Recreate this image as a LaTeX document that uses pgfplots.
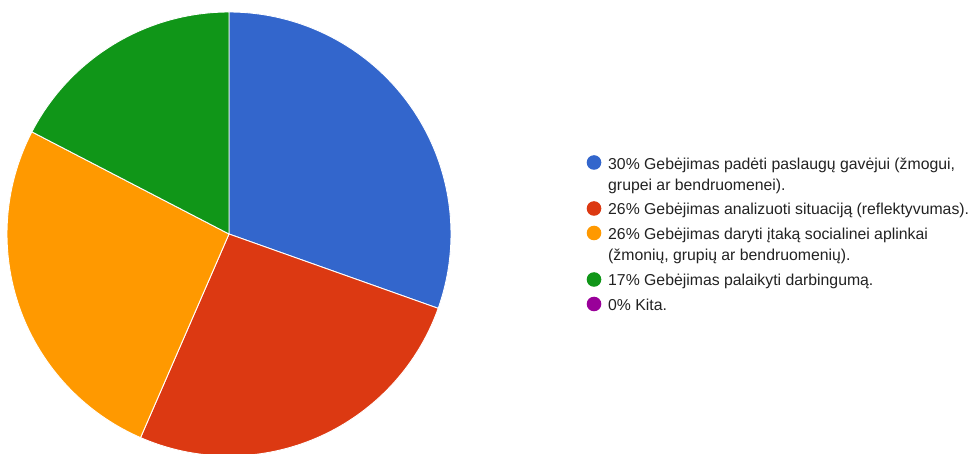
\documentclass[border=0pt]{standalone}
\usepackage{pgfplots}
\pgfplotsset{compat=1.18}
\usepackage{pgfplotstable}
\usepackage{fontspec}
\setmainfont{Liberation Sans}

\definecolor{gblue}{HTML}{3366CC}
\definecolor{gred}{HTML}{DC3912}
\definecolor{gorange}{HTML}{FF9900}
\definecolor{ggreen}{HTML}{109618}
\definecolor{gpurple}{HTML}{990099}
\definecolor{legtext}{HTML}{222222}

% answers (counts), in drawing order
\pgfplotstableread{
count colour
7 gblue
6 gred
6 gorange
4 ggreen
0 gpurple
}\piedata

\begin{document}
\begin{tikzpicture}
% cumulative angles, clockwise from the top
\pgfplotstablegetrowsof{\piedata}
\pgfmathtruncatemacro{\nrows}{\pgfplotsretval-1}
\gdef\total{0}
\foreach \i in {0,...,\nrows}{
  \pgfplotstablegetelem{\i}{count}\of\piedata
  \pgfmathsetmacro{\t}{\total+\pgfplotsretval}
  \xdef\total{\t}
}
\gdef\cum{0}
\foreach \i in {0,...,\nrows}{
  \pgfplotstablegetelem{\i}{count}\of\piedata
  \pgfmathsetmacro{\a}{90-360*\cum/\total}
  \pgfmathsetmacro{\b}{90-360*(\cum+\pgfplotsretval)/\total}
  \pgfmathsetmacro{\c}{\cum+\pgfplotsretval}
  \expandafter\xdef\csname sa\i\endcsname{\a}
  \expandafter\xdef\csname sb\i\endcsname{\b}
  \xdef\cum{\c}
}
\begin{axis}[
    name=ax,
    x=1pt, y=1pt,
    xmin=0, xmax=970,
    ymin=0, ymax=453,
    hide axis,
    clip=true,
]
  \foreach \i/\col in {0/gblue,1/gred,2/gorange,3/ggreen}{
    \edef\temp{\noexpand\fill[\col, draw=white, line width=0.9pt]
      (axis cs:229,219) -- ++(\csname sa\i\endcsname:222pt)
      arc[start angle=\csname sa\i\endcsname, end angle=\csname sb\i\endcsname, radius=222pt] -- cycle;}
    \temp
  }

  % legend
  \fill[gblue]   (axis cs:594,290.5) circle[radius=7.3pt];
  \fill[gred]    (axis cs:594,244.5) circle[radius=7.3pt];
  \fill[gorange] (axis cs:594,220)   circle[radius=7.3pt];
  \fill[ggreen]  (axis cs:594,173.5) circle[radius=7.3pt];
  \fill[gpurple] (axis cs:594,149)   circle[radius=7.3pt];
  \begin{scope}[every node/.style={anchor=base west, inner sep=0pt, text=legtext, font=\fontsize{15.8}{18}\selectfont}]
    \node at (axis cs:608,283.5) {30\% Gebėjimas padėti paslaugų gavėjui (žmogui,};
    \node at (axis cs:608,262)   {grupei ar bendruomenei).};
    \node at (axis cs:608,238)   {26\% Gebėjimas analizuoti situaciją (reflektyvumas).};
    \node at (axis cs:608,213.5) {26\% Gebėjimas daryti įtaką socialinei aplinkai};
    \node at (axis cs:608,192)   {(žmonių, grupių ar bendruomenių).};
    \node at (axis cs:608,167)   {17\% Gebėjimas palaikyti darbingumą.};
    \node at (axis cs:608,142.5) {0\% Kita.};
  \end{scope}
\end{axis}
\pgfresetboundingbox
\useasboundingbox (ax.south west) rectangle (ax.north east);
\end{tikzpicture}
\end{document}
